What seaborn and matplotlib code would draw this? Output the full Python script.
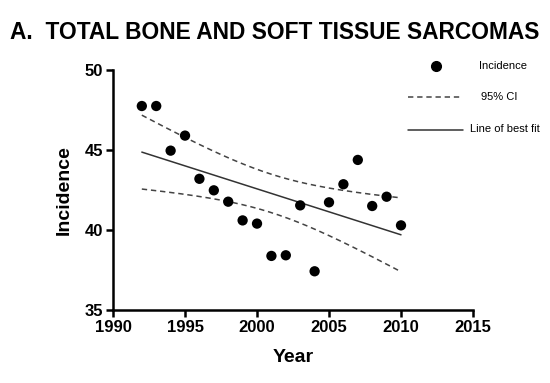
import numpy as np
import pandas as pd
import matplotlib
matplotlib.use("Agg")
import matplotlib.pyplot as plt
from matplotlib.lines import Line2D
import seaborn as sns

years = [1992, 1993, 1994, 1995, 1996, 1997, 1998, 1999, 2000, 2001,
         2002, 2003, 2004, 2005, 2006, 2007, 2008, 2009, 2010]
incidence = [47.75, 47.75, 44.96, 45.9, 43.2, 42.48, 41.77, 40.6, 40.4, 38.38,
             38.42, 41.54, 37.42, 41.73, 42.86, 44.38, 41.5, 42.08, 40.29]
x_ticks = [1990, 1995, 2000, 2005, 2010, 2015]
y_ticks = [35, 40, 45, 50]
legend_labels = ["Incidence", "95% CI", "Line of best fit"]
title = "A.  TOTAL BONE AND SOFT TISSUE SARCOMAS"

sns.set_theme(style="ticks")
plt.rcParams["font.family"] = ["Liberation Sans", "DejaVu Sans"]
plt.rcParams["text.color"] = "black"
plt.rcParams["axes.labelcolor"] = "black"
plt.rcParams["xtick.color"] = "black"
plt.rcParams["ytick.color"] = "black"

df = pd.DataFrame({"Year": years, "Incidence": incidence})

# linear regression with 95% confidence band of the mean
x = np.array(years, dtype=float)
y = np.array(incidence, dtype=float)
n = len(x)
slope, intercept = np.polyfit(x, y, 1)
resid = y - (slope * x + intercept)
s = np.sqrt(np.sum(resid ** 2) / (n - 2))
xbar = x.mean()
sxx = np.sum((x - xbar) ** 2)
t_crit = 2.1098  # t(0.975, df=17)
xs = np.linspace(x.min(), x.max(), 200)
fit = slope * xs + intercept
half = t_crit * s * np.sqrt(1.0 / n + (xs - xbar) ** 2 / sxx)
band = pd.DataFrame({"Year": xs, "fit": fit, "lo": fit - half, "hi": fit + half})

fig = plt.figure(figsize=(5.5, 3.83), dpi=100)
ax = fig.add_axes([0.2055, 0.1906, 0.6545, 0.6266])

sns.lineplot(data=band, x="Year", y="hi", ax=ax, color="#444444", lw=1.1,
             linestyle=(0, (3.5, 2.5)))
sns.lineplot(data=band, x="Year", y="lo", ax=ax, color="#444444", lw=1.1,
             linestyle=(0, (3.5, 2.5)))
sns.lineplot(data=band, x="Year", y="fit", ax=ax, color="#333333", lw=1.1)
sns.scatterplot(data=df, x="Year", y="Incidence", ax=ax, color="black",
                s=55, edgecolor="none", zorder=5)

ax.set_xlim(1990, 2015)
ax.set_ylim(35, 50)
ax.set_xticks(x_ticks)
ax.set_yticks(y_ticks)
ax.tick_params(width=1.8, length=5, labelsize=12, pad=2, color="black",
               labelcolor="black")
for lab in ax.get_xticklabels() + ax.get_yticklabels():
    lab.set_fontweight("bold")
for sp in ["left", "bottom"]:
    ax.spines[sp].set_linewidth(1.8)
    ax.spines[sp].set_color("black")
sns.despine(ax=ax)
ax.set_xlabel("Year", fontsize=14, fontweight="bold", labelpad=10, color="black")
ax.set_ylabel("Incidence", fontsize=14, fontweight="bold", labelpad=9, color="black")

fig.text(0.018, 0.915, title, fontsize=16.4, fontweight="bold", va="center",
         ha="left", color="black")

# legend (drawn in figure coordinates)
W, H = 550.0, 383.0
fig.add_artist(Line2D([436 / W], [1 - 66 / H], marker="o", markersize=7,
                      color="black", linestyle="none"))
fig.add_artist(Line2D([408 / W, 463 / W], [1 - 97 / H, 1 - 97 / H],
                      color="#444444", lw=1.1, linestyle=(0, (3.5, 2.5))))
fig.add_artist(Line2D([408 / W, 463 / W], [1 - 130 / H, 1 - 130 / H],
                      color="#333333", lw=1.1))
fig.text(503 / W, 1 - 66 / H, legend_labels[0], fontsize=8, ha="center", va="center")
fig.text(499 / W, 1 - 97 / H, legend_labels[1], fontsize=8, ha="center", va="center")
fig.text(505 / W, 1 - 129 / H, legend_labels[2], fontsize=8, ha="center", va="center")

fig.savefig("out.png", dpi=100)
